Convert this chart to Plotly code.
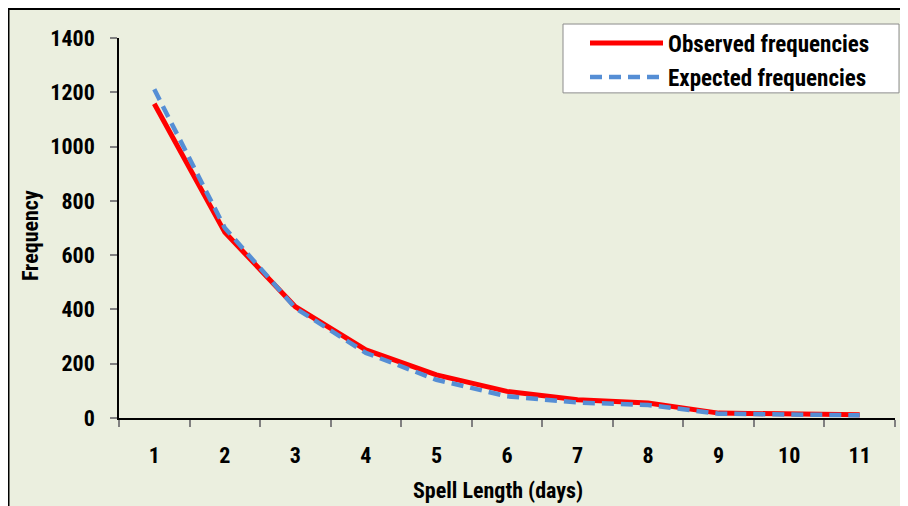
import plotly.graph_objects as go

spell_length = ["1", "2", "3", "4", "5", "6", "7", "8", "9", "10", "11"]
observed = [1158, 684, 410, 251, 159, 98, 67, 55, 18, 17, 12]
expected = [1211, 700, 405, 240, 141, 80, 57, 48, 16, 14, 10]
y_ticks = [0, 200, 400, 600, 800, 1000, 1200, 1400]

FONT = "Liberation Sans Narrow, Arial Narrow, Roboto Condensed, Liberation Sans, Arial"
BG = "#EBEFDF"

OFF = 8  # page body margin
W, H = 900, 498
# plot area in page pixels: x 119..895, y 37.5..418.3
L = 119 - OFF
R = W - (895 - OFF)
T = 37.5 - OFF
B = H - (418.3 - OFF)
pw = W - L - R
ph = H - T - B

def px_x(x):
    return (x - OFF - L) / pw

def px_y(y):
    return (H - B - (y - OFF)) / ph

fig = go.Figure()
fig.add_trace(go.Scatter(
    x=spell_length, y=observed, mode="lines", name="Observed frequencies",
    line=dict(color="#FF0000", width=5), legendgroup="a",
))
fig.add_trace(go.Scatter(
    x=spell_length, y=expected, mode="lines", name="Expected frequencies",
    line=dict(color="#558ED5", width=4.5, dash="12px,7px"), legendgroup="b",
))

fig.update_layout(
    width=W, height=H,
    margin=dict(l=L, r=R, t=T, b=B, pad=0),
    paper_bgcolor=BG, plot_bgcolor=BG,
    font=dict(family=FONT, size=22, color="#000000", weight="bold"),
    showlegend=True,
    legend=dict(
        x=px_x(585), y=px_y(21), xanchor="left", yanchor="top",
        bgcolor="rgba(0,0,0,0)", borderwidth=0,
        font=dict(family=FONT, size=23, color="#000000", weight="bold"),
        itemwidth=73, tracegroupgap=1,
    ),
    xaxis=dict(
        type="category", tickson="boundaries", ticks="outside", ticklen=7,
        range=[-0.5, 10.5],
        tickcolor="#808080", tickwidth=1.5,
        showline=True, linecolor="#000000", linewidth=1.5,
        showgrid=False, zeroline=False, ticklabelstandoff=17,
        tickfont=dict(family=FONT, size=22, weight="bold"),
    ),
    yaxis=dict(
        range=[0, 1400], tickvals=y_ticks, ticks="outside", ticklen=7,
        tickcolor="#808080", tickwidth=1.5,
        showline=True, linecolor="#000000", linewidth=1.5,
        showgrid=False, zeroline=False, ticklabelstandoff=11,
        tickfont=dict(family=FONT, size=22, weight="bold"),
    ),
    annotations=[
        dict(text="Spell Length (days)", xref="paper", yref="paper",
             x=px_x(498), y=px_y(491), xanchor="center", yanchor="middle",
             showarrow=False, font=dict(family=FONT, size=22, weight="bold")),
        dict(text="Frequency", xref="paper", yref="paper",
             x=px_x(30), y=px_y(236), xanchor="center", yanchor="middle",
             textangle=-90, showarrow=False,
             font=dict(family=FONT, size=22, weight="bold")),
    ],
    shapes=[
        # legend box
        dict(type="rect", xref="paper", yref="paper",
             x0=px_x(563), y0=px_y(23.5), x1=px_x(899), y1=px_y(92.5),
             line=dict(color="#8C8C8C", width=1), fillcolor="#FFFFFF",
             layer="below"),
        # outer chart border
        dict(type="rect", xref="paper", yref="paper",
             x0=px_x(OFF), y0=px_y(OFF), x1=px_x(OFF + W + 60), y1=px_y(OFF + H + 60),
             line=dict(color="#000000", width=3), fillcolor="rgba(0,0,0,0)",
             layer="above"),
    ],
)

fig.write_html("out.html")
